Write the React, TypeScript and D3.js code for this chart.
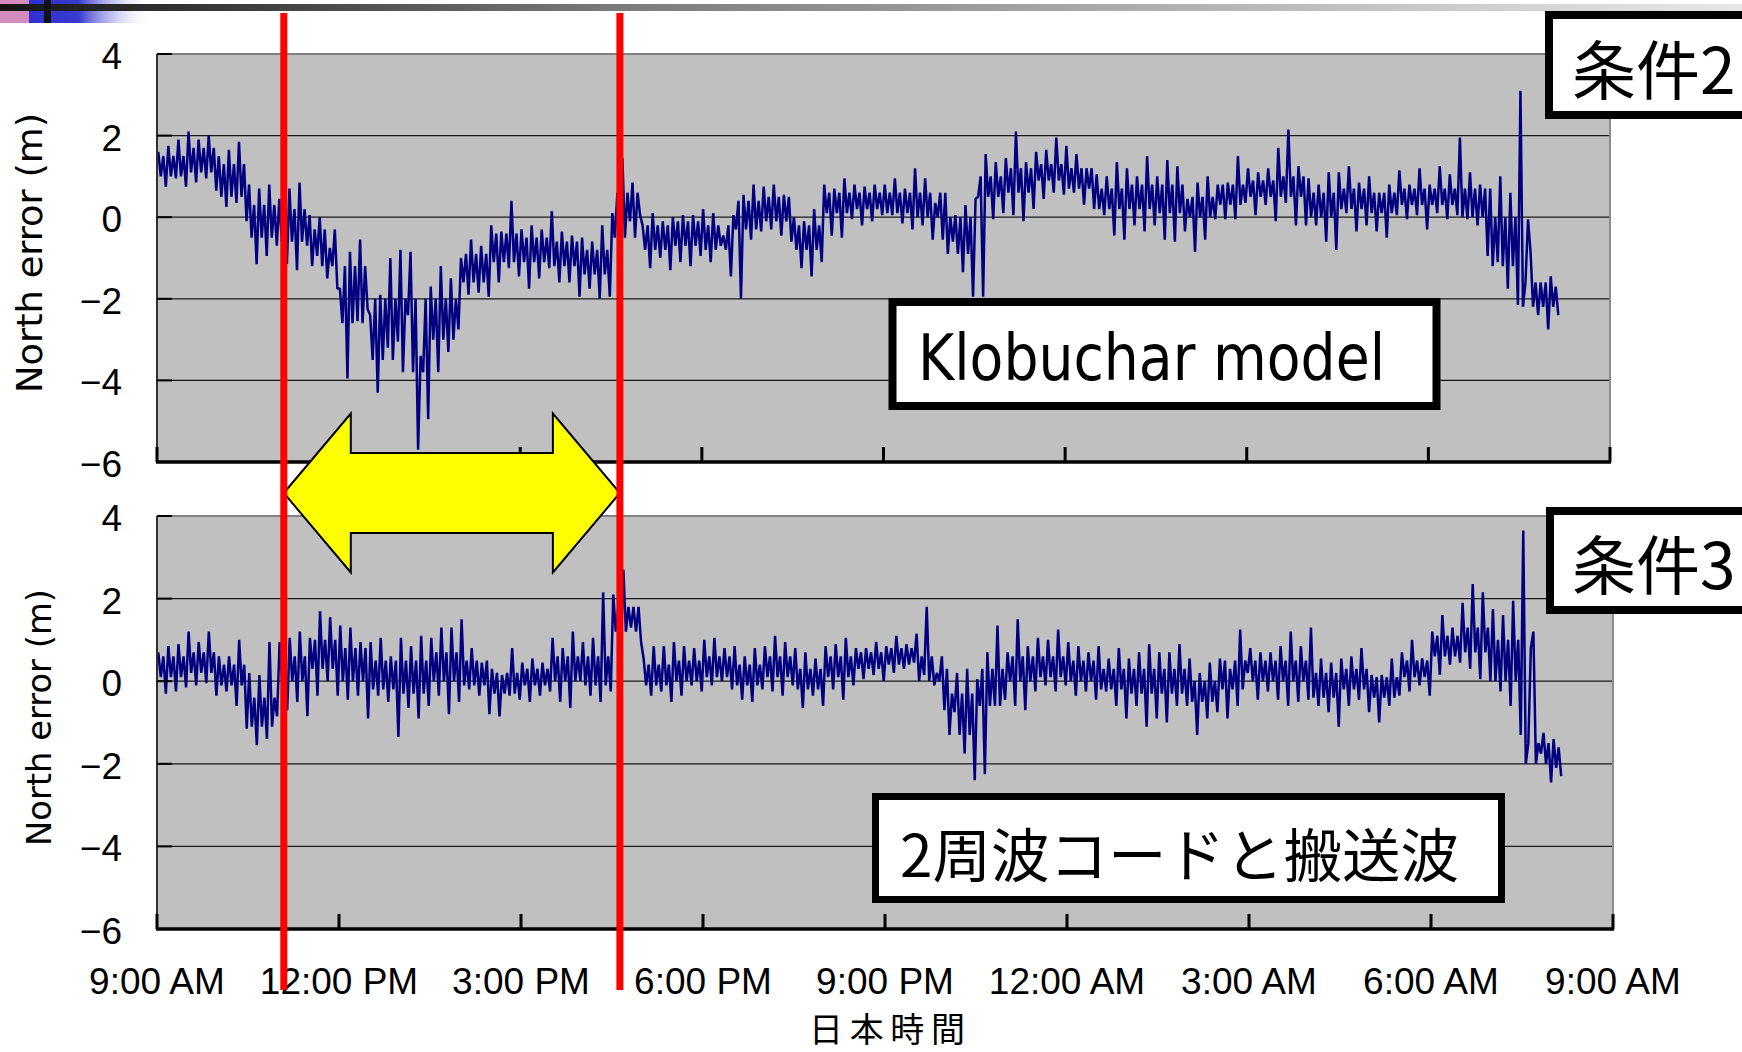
import React from "react";
import * as d3 from "d3";

// ---------- data ----------
const tickHours = [0, 3, 6, 9, 12, 15, 18, 21, 24];
const tickLabels = ["9:00 AM", "12:00 PM", "3:00 PM", "6:00 PM", "9:00 PM", "12:00 AM", "3:00 AM", "6:00 AM", "9:00 AM"];
const yTicks = [4, 2, 0, -2, -4, -6];
const binHours = 1 / 6; // 10-minute bins, hours after 9:00 AM
const coreBins = 3; // core band read per 30 minutes (3 bins)

// 条件2 (Klobuchar model): per 10-min bin, highest and lowest reading of north error (m)
const klobucharHi = [
  1.6, 1.75, 1.9, 2.1, 1.9, 2.0, 1.5, 1.65, 1.85, 0.8,
  0.7, 0.8, 0.45, 0.7, 0.85, 0.05, 0, -0.75, -1.75, -0.85,
  -0.55, -2.4, -1.9, -1.0, -0.8, -0.85, -3.4, -1.7, -1.2, -1.5,
  -1.0, -0.55, -0.7, -0.2, -0.35, 0.4, -0.3, -0.2, -0.3, 0.15,
  -0.35, -0.45, -0.5, -0.6, -0.2, 0.1, 1.45, 0.85, -0.2, 0.1,
  -0.1, 0, 0.05, 0.05, 0.2, 0.1, -0.45, 0.05, 0.55, 0.8,
  0.75, 0.8, 0.55, 0, -0.1, 0.2, 0.8, 0.7, 0.95, 0.8,
  0.75, 0.8, 0.8, 0.95, 0.7, 1.2, 0.95, 0.35, 0.6, 0.05,
  0.3, 0.45, 1.55, 1.35, 1.45, 2.1, 1.35, 1.6, 1.65, 1.95,
  1.75, 1.55, 1.2, 1.05, 1.0, 1.35, 1.2, 1.0, 1.5, 1.0,
  1.4, 1.25, 0.45, 0.85, 1.0, 0.8, 0.85, 1.5, 1.2, 1.1,
  1.2, 1.7, 2.15, 1.25, 0.95, 0.8, 1.1, 1.1, 1.25, 0.85,
  1.0, 0.6, 0.8, 1.15, 0.8, 1.2, 0.8, 1.25, 1.05, 1.95,
  1.1, 0.8, 0.7, 1.0, 0.6, 3.1, -0.85, -1.6, -1.45,
];
const klobucharLo = [
  0.75, 0.95, 0.75, 0.85, 0.95, 0.65, 0.25, 0.35, -0.1, -1.15,
  -0.95, -0.7, -1.15, -1.3, -0.7, -0.95, -1.5, -1.75, -3.95, -2.55,
  -2.25, -4.3, -3.2, -3.05, -2.4, -5.7, -4.95, -3.8, -3.3, -2.75,
  -1.9, -1.85, -1.95, -1.6, -1.25, -1.45, -1.75, -1.5, -1.25, -1.6,
  -1.6, -1.95, -1.75, -2.0, -1.95, -1.85, -0.1, 0.05, -1.25, -1.0,
  -1.3, -1.1, -1.2, -0.95, -1.1, -0.7, -1.45, -2.0, -0.55, -0.35,
  -0.3, -0.45, -0.6, -1.25, -1.45, -1.1, -0.45, -0.5, -0.05, -0.2,
  -0.1, 0.05, 0.05, -0.15, -0.3, -0.2, -0.55, -0.55, -0.6, -1.35,
  -1.95, -1.95, -0.05, 0.1, 0.05, -0.1, 0.2, 0.45, 0.6, 0.55,
  0.6, 0.3, 0.2, 0.05, -0.45, -0.55, -0.2, -0.35, -0.2, -0.55,
  -0.6, -0.35, -0.85, -0.55, -0.05, -0.05, -0.05, 0.35, 0.05, 0.3,
  -0.1, 0.35, -0.2, -0.2, -0.2, -0.6, -0.8, 0.1, -0.35, -0.2,
  -0.35, -0.5, 0.05, -0.05, 0.05, -0.3, 0.1, -0.05, 0.05, -0.05,
  -0.2, -0.95, -1.1, -1.75, -2.15, -0.05, -2.4, -2.75, -2.4,
];
// dense core band of 条件2, per 30-min step
const klobucharCoreHi = [
  1.5, 1.7, 1.3, 0.3, 0.2, -0.3, -1.2, -2.0, -2.0, -2.0,
  -0.9, -0.4, -0.5, -0.6, -0.8, 0.6, -0.2, -0.1, -0.2, 0.4,
  0.5, -0.2, 0.6, 0.6, 0.6, 0.6, 0.0, 1.0, 1.2, 1.3,
  1.2, 0.7, 0.8, 0.8, 0.5, 0.8, 0.9, 1.0, 0.6, 0.7,
  0.6, 0.7, 0.7, 0.7, 0.0, -1.6, -1.7,
];
const klobucharCoreLo = [
  1.0, 1.1, 0.5, -0.5, -0.6, -1.2, -2.6, -3.5, -3.8, -3.0,
  -1.6, -1.1, -1.1, -1.2, -1.4, -0.5, -0.8, -0.7, -0.8, -0.3,
  -0.1, -0.8, 0.1, 0.2, 0.1, 0.0, -0.9, 0.5, 0.6, 0.9,
  0.7, 0.2, 0.2, 0.1, 0.0, 0.3, 0.5, 0.5, 0.0, 0.2,
  0.1, 0.3, 0.3, 0.0, -1.2, -2.2, -2.2,
];

// 条件3 (dual-frequency code and carrier)
const dualFreqHi = [
  0.7, 0.85, 0.9, 1.2, 0.95, 1.2, 0.6, 0.6, 1.0, 0.2,
  0.15, 0.95, 0.95, 1.05, 1.2, 1.05, 1.7, 1.55, 1.35, 1.3,
  0.95, 0.95, 1.05, 0.6, 1.05, 0.85, 1.1, 1.05, 1.3, 1.3,
  1.5, 0.8, 0.45, 0.3, 0.15, 0.8, 0.45, 0.55, 0.45, 1.05,
  0.8, 1.2, 0.95, 1.05, 2.15, 2.1, 2.7, 1.8, 0.55, 0.85,
  0.85, 0.95, 0.85, 0.8, 1.0, 1.05, 0.8, 0.85, 0.6, 0.8,
  0.85, 1.1, 0.95, 0.8, 0.7, 0.55, 0.85, 0.9, 1.05, 0.8,
  0.8, 0.95, 0.85, 1.1, 0.9, 1.15, 1.8, 0.2, 0.3, 0.2,
  0.3, 0.05, 0.7, 1.35, 0.7, 1.5, 0.85, 1.05, 1.0, 1.25,
  0.95, 0.85, 0.7, 0.85, 0.55, 0.8, 0.55, 0.7, 0.9, 0.7,
  0.7, 0.9, 0.55, 0.2, 0.45, 0.55, 0.3, 1.25, 0.8, 0.7,
  0.7, 0.85, 1.2, 0.85, 1.3, 0.55, 0.45, 0.55, 0.6, 0.8,
  0.15, 0.15, 0.55, 0.7, 1.0, 0.55, 1.2, 1.6, 1.3, 1.9,
  2.35, 2.15, 1.75, 1.6, 1.95, 3.65, 1.2, -1.25, -1.4,
];
const dualFreqLo = [
  -0.3, -0.25, -0.15, -0.1, -0.05, -0.35, -0.25, -0.6, -1.15, -1.55,
  -1.4, -0.85, -0.7, -0.5, -0.85, -0.35, 0, -0.35, -0.45, -0.35,
  -0.9, -0.35, -0.5, -1.35, -0.65, -0.9, -0.6, -0.35, -0.8, -0.5,
  -0.2, -0.35, -0.8, -0.85, -0.35, -0.45, -0.5, -0.35, -0.25, -0.5,
  -0.65, 0, -0.35, -0.5, -0.25, 0.85, 1.3, 0.95, -0.35, -0.25,
  -0.5, -0.35, -0.1, -0.25, -0.1, 0, -0.2, -0.45, -0.5, -0.2,
  -0.25, -0.35, -0.1, -0.65, -0.35, -0.6, -0.2, -0.45, -0.1, 0.05,
  0.15, 0, 0.2, 0.3, 0.45, 0.15, -0.1, -0.7, -0.75, -1.75,
  -2.4, -2.25, -0.6, -0.45, -0.6, -0.7, -0.25, -0.1, -0.25, -0.1,
  -0.35, -0.25, -0.45, -0.25, -0.6, -0.9, -0.6, -1.1, -0.9, -1.0,
  -0.6, -0.6, -1.3, -0.9, -0.75, -0.9, -0.6, 0.2, -0.45, -0.25,
  -0.45, -0.6, -0.5, -0.45, -0.6, -0.75, -1.1, -0.6, -0.45, -0.75,
  -1.0, -0.6, -0.35, -0.25, -0.1, -0.35, 0.15, 0.4, 0.45, 0.3,
  0.05, 0, -0.25, -0.6, -1.3, 0.8, -1.75, -2.45, -2.3,
];
// dense core band of 条件3, per 30-min step
const dualFreqCoreHi = [
  0.6, 0.7, 0.4, -0.4, 0.6, 1.0, 0.8, 0.5, 0.5, 0.7,
  0.5, 0.2, 0.3, 0.6, 0.6, 1.8, 0.4, 0.5, 0.6, 0.4,
  0.6, 0.3, 0.6, 0.7, 0.8, 0.6, -0.3, 0.3, 0.6, 0.6,
  0.5, 0.3, 0.3, 0.3, 0.0, 0.5, 0.5, 0.5, 0.2, 0.3,
  0.1, 0.5, 1.1, 1.3, 1.0, -1.5, -1.6,
];
const dualFreqCoreLo = [
  0.1, 0.2, -0.1, -1.1, 0.0, 0.3, 0.0, -0.2, -0.3, 0.0,
  -0.1, -0.3, -0.1, 0.0, -0.1, 1.2, -0.1, 0.0, 0.1, -0.1,
  0.1, -0.2, 0.1, 0.3, 0.4, 0.0, -1.3, -0.6, 0.0, 0.1,
  0.0, -0.2, -0.3, -0.3, -0.5, -0.2, 0.0, 0.0, -0.4, -0.2,
  -0.4, 0.1, 0.6, 0.7, 0.0, -2.0, -2.1,
];

const conditionLabels = ["条件2", "条件3"];
const methodLabels = ["Klobuchar model", "2周波コードと搬送波"];
const yTitle = "North error (m)";
const xTitle = "日本時間";
const markerHours = [2.09, 7.63]; // red vertical markers

// ---------- helpers ----------
type Pt = { t: number; v: number };
function toSeries(hi: number[], lo: number[], coreHi: number[], coreLo: number[]): Pt[] {
  const pts: Pt[] = [];
  hi.forEach((h, k) => {
    const j = Math.floor(k / coreBins);
    pts.push({ t: (k + 0.125) * binHours, v: h });
    pts.push({ t: (k + 0.375) * binHours, v: coreLo[j] });
    pts.push({ t: (k + 0.625) * binHours, v: coreHi[j] });
    pts.push({ t: (k + 0.875) * binHours, v: lo[k] });
  });
  return pts;
}

const SANS = "'Liberation Sans', Arial, sans-serif";
const TAHOMA = "'DejaVu Sans', Verdana, sans-serif";
const CJK = "'Noto Sans CJK JP', 'Noto Sans CJK SC', sans-serif";

type Layout = { x0: number; x1: number; yTop: number; yBot: number };
const topLayout: Layout = { x0: 157, x1: 1610, yTop: 54, yBot: 462 };
const botLayout: Layout = { x0: 157, x1: 1613, yTop: 516, yBot: 929 };

function Panel({
  id, layout, data, titleX, titleSize, titleLen,
}: {
  id: string; layout: Layout; data: Pt[];
  titleX: number; titleSize: number; titleLen: number;
}) {
  const x = d3.scaleLinear().domain([0, 24]).range([layout.x0, layout.x1]);
  const y = d3.scaleLinear().domain([-6, 4]).range([layout.yBot, layout.yTop]);
  const line = d3.line<Pt>().x((d) => x(d.t)).y((d) => y(d.v));
  const midY = (layout.yTop + layout.yBot) / 2;
  return (
    <g>
      <defs>
        <clipPath id={id}>
          <rect x={layout.x0} y={layout.yTop} width={layout.x1 - layout.x0} height={layout.yBot - layout.yTop} />
        </clipPath>
      </defs>
      <rect x={layout.x0} y={layout.yTop} width={layout.x1 - layout.x0} height={layout.yBot - layout.yTop} fill="#C0C0C0" />
      {yTicks.filter((v) => v !== 4 && v !== -6).map((v) => (
        <line key={v} x1={layout.x0} x2={layout.x1} y1={y(v)} y2={y(v)} stroke="#1a1a1a" strokeWidth={1.2} />
      ))}
      <path d={line(data) || ""} fill="none" stroke="#000080" strokeWidth={2.5} strokeLinejoin="bevel" clipPath={`url(#${id})`} />
      {/* plot borders */}
      <line x1={layout.x0} x2={layout.x1} y1={y(4)} y2={y(4)} stroke="#808080" strokeWidth={2} />
      <line x1={layout.x1} x2={layout.x1} y1={layout.yTop} y2={layout.yBot} stroke="#8c8c8c" strokeWidth={2} />
      <line x1={layout.x0} x2={layout.x0} y1={layout.yTop} y2={layout.yBot} stroke="#303030" strokeWidth={2} />
      {/* y ticks */}
      {yTicks.map((v) => (
        <g key={v}>
          <line x1={layout.x0} x2={layout.x0 + 15} y1={y(v)} y2={y(v)} stroke="#000" strokeWidth={2} />
          <text x={122} y={y(v) + 15} textAnchor="end" fontFamily={SANS} fontSize={37} fill="#000">
            {v < 0 ? "\u2212" + Math.abs(v) : String(v)}
          </text>
        </g>
      ))}
      {/* x axis */}
      <line x1={layout.x0 - 1} x2={layout.x1 + 1} y1={layout.yBot} y2={layout.yBot} stroke="#000" strokeWidth={3.5} />
      {tickHours.map((h) => (
        <line key={h} x1={x(h)} x2={x(h)} y1={layout.yBot - 15} y2={layout.yBot} stroke="#000" strokeWidth={3} />
      ))}
      <text
        transform={`translate(${titleX},${midY - 5}) rotate(-90)`}
        textAnchor="middle"
        dominantBaseline="central"
        fontFamily={TAHOMA}
        fontSize={titleSize}
        textLength={titleLen}
        lengthAdjust="spacingAndGlyphs"
        fill="#000"
      >
        {yTitle}
      </text>
    </g>
  );
}

export default function App() {
  const W = 1742;
  const H = 1052;
  const xb = d3.scaleLinear().domain([0, 24]).range([botLayout.x0, botLayout.x1]);
  const m0 = xb(markerHours[0]);
  const m1 = xb(markerHours[1]);
  const ay = 493;
  const headLen = 67;
  const headHalf = 79.5;
  const shaftHalf = 40;
  const arrowPts = [
    [m0, ay], [m0 + headLen, ay - headHalf], [m0 + headLen, ay - shaftHalf],
    [m1 - headLen, ay - shaftHalf], [m1 - headLen, ay - headHalf], [m1, ay],
    [m1 - headLen, ay + headHalf], [m1 - headLen, ay + shaftHalf],
    [m0 + headLen, ay + shaftHalf], [m0 + headLen, ay + headHalf],
  ].map((p) => p.join(",")).join(" ");

  const topData = toSeries(klobucharHi, klobucharLo, klobucharCoreHi, klobucharCoreLo);
  const botData = toSeries(dualFreqHi, dualFreqLo, dualFreqCoreHi, dualFreqCoreLo);

  return (
    <div style={{ position: "absolute", left: 0, top: 0, width: W, height: H, background: "#fff" }}>
      <svg width={W} height={H} viewBox={`0 0 ${W} ${H}`} style={{ display: "block" }}>
        <defs>
          <linearGradient id="hdrBar" x1="0" x2="1" y1="0" y2="0">
            <stop offset="0" stopColor="#141414" />
            <stop offset="0.35" stopColor="#7a7a7a" />
            <stop offset="1" stopColor="#e8e8e8" />
          </linearGradient>
          <linearGradient id="hdrBlue" x1="0" x2="1" y1="0" y2="0">
            <stop offset="0" stopColor="#2f2fd0" />
            <stop offset="0.4" stopColor="#3a3ad0" />
            <stop offset="1" stopColor="#ffffff" stopOpacity="0" />
          </linearGradient>
        </defs>
        <rect x={0} y={0} width={W} height={H} fill="#fff" />
        {/* slide header decoration */}
        <rect x={0} y={0} width={29} height={23} fill="#d48cbc" />
        <rect x={29} y={0} width={124} height={23} fill="url(#hdrBlue)" />
        <rect x={0} y={4} width={W} height={7} fill="url(#hdrBar)" />
        <rect x={44} y={0} width={7} height={23} fill="#111" />

        <Panel id="clipTop" layout={topLayout} data={topData} titleX={29} titleSize={36} titleLen={280} />
        <Panel id="clipBot" layout={botLayout} data={botData} titleX={39} titleSize={33} titleLen={257} />

        {/* x tick labels */}
        {tickHours.map((h, i) => (
          <text key={i} x={xb(h)} y={994} textAnchor="middle" fontFamily={SANS} fontSize={37} fill="#000">
            {tickLabels[i]}
          </text>
        ))}
        <text x={(botLayout.x0 + botLayout.x1) / 2 + 2} y={1041.5} textAnchor="middle" fontFamily={CJK} fontSize={34}
          textLength={156} lengthAdjust="spacing" fill="#000">
          {xTitle}
        </text>

        {/* method boxes */}
        <rect x={892.5} y={302} width={544} height={104} fill="#fff" stroke="#000" strokeWidth={8} />
        <text x={918} y={380} fontFamily={TAHOMA} fontSize={64} textLength={467} lengthAdjust="spacingAndGlyphs" fill="#000">
          {methodLabels[0]}
        </text>
        <rect x={875.5} y={796.5} width={626} height={103} fill="#fff" stroke="#000" strokeWidth={7} />
        <text x={900} y={852} dominantBaseline="central" fontFamily={CJK} fontSize={58} textLength={559} lengthAdjust="spacingAndGlyphs" fill="#000">
          {methodLabels[1]}
        </text>

        {/* condition boxes */}
        <rect x={1549} y={15} width={260} height={100} fill="#fff" stroke="#000" strokeWidth={8} />
        <text x={1572} y={66} dominantBaseline="central" fontFamily={CJK} fontSize={64} fill="#000">
          {conditionLabels[0]}
        </text>
        <rect x={1550} y={511} width={260} height={99} fill="#fff" stroke="#000" strokeWidth={8} />
        <text x={1572} y={561} dominantBaseline="central" fontFamily={CJK} fontSize={64} fill="#000">
          {conditionLabels[1]}
        </text>

        {/* double arrow */}
        <polygon points={arrowPts} fill="#FFFF00" stroke="#000" strokeWidth={2} strokeLinejoin="miter" />

        {/* red markers */}
        {markerHours.map((h, i) => (
          <line key={i} x1={xb(h)} x2={xb(h)} y1={13} y2={990} stroke="#FF0000" strokeWidth={7} />
        ))}
      </svg>
    </div>
  );
}
